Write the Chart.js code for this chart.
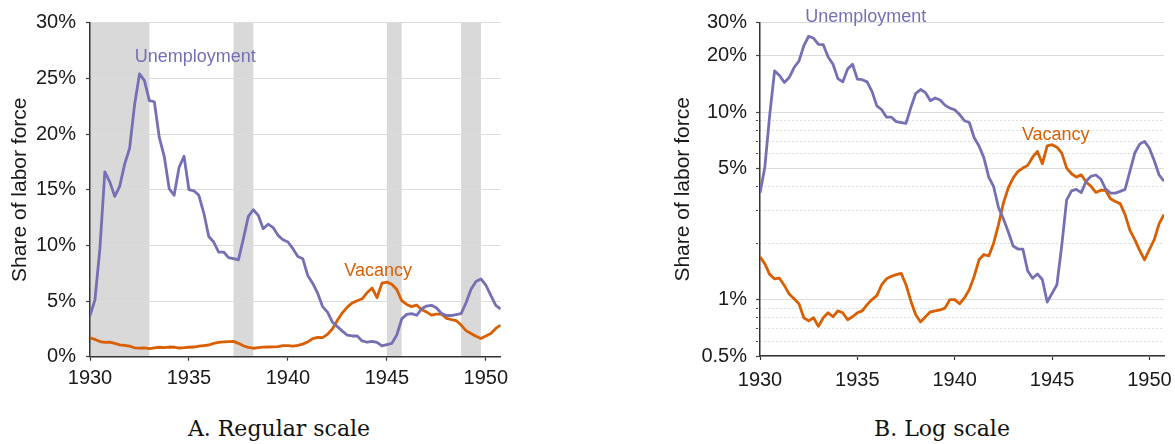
<!DOCTYPE html>
<html><head><meta charset="utf-8">
<script src="https://cdn.jsdelivr.net/npm/chart.js@4"></script>
<style>
html,body{margin:0;padding:0;background:#fff;width:1175px;height:444px;overflow:hidden;}
#c1{position:absolute;left:0;top:0;}
#c2{position:absolute;left:640px;top:0;}
.cap{position:absolute;top:418px;font-family:"DejaVu Serif",serif;font-size:22px;line-height:22px;text-align:center;color:#111;white-space:nowrap;}
</style></head><body>
<canvas id="c1" width="530" height="400"></canvas>
<canvas id="c2" width="535" height="400"></canvas>
<div class="cap" style="left:129px;width:300px">A. Regular scale</div>
<div class="cap" style="left:792px;width:300px">B. Log scale</div>
<script>
// ---- data (quarterly, share of labor force in %) ----
const quarters = [
  1930,1930.25,1930.5,1930.75, 1931,1931.25,1931.5,1931.75, 1932,1932.25,1932.5,1932.75,
  1933,1933.25,1933.5,1933.75, 1934,1934.25,1934.5,1934.75, 1935,1935.25,1935.5,1935.75,
  1936,1936.25,1936.5,1936.75, 1937,1937.25,1937.5,1937.75, 1938,1938.25,1938.5,1938.75,
  1939,1939.25,1939.5,1939.75, 1940,1940.25,1940.5,1940.75, 1941,1941.25,1941.5,1941.75,
  1942,1942.25,1942.5,1942.75, 1943,1943.25,1943.5,1943.75, 1944,1944.25,1944.5,1944.75,
  1945,1945.25,1945.5,1945.75, 1946,1946.25,1946.5,1946.75, 1947,1947.25,1947.5,1947.75,
  1948,1948.25,1948.5,1948.75, 1949,1949.25,1949.5,1949.75, 1950,1950.25,1950.5,1950.75
];
const unemployment = [
  3.7, 5.1, 9.7, 16.6,   15.7, 14.4, 15.3, 17.3,   18.7, 22.6, 25.4, 24.8,
  23.0, 22.9, 19.7, 18.0, 15.1, 14.5, 17.0, 18.0,   15.0, 14.9, 14.5, 12.9,
  10.8, 10.3, 9.4, 9.4,   8.9, 8.8, 8.7, 10.6,      12.6, 13.2, 12.7, 11.5,
  11.9, 11.6, 10.9, 10.5, 10.3, 9.7, 9.0, 8.8,      7.3, 6.6, 5.7, 4.5,
  4.0, 3.1, 2.7, 2.3,     1.93, 1.86, 1.86, 1.42,   1.3, 1.37, 1.28, 0.97,
  1.08, 1.2, 1.95, 3.4,   3.8, 3.87, 3.72, 4.28,    4.55, 4.62, 4.4, 3.9,
  3.7, 3.7, 3.78, 3.87,   4.85, 6.05, 6.75, 6.98,   6.42, 5.5, 4.62, 4.28
];
const vacancy = [
  1.69, 1.55, 1.36, 1.29, 1.30, 1.19, 1.07, 1.01,   0.95, 0.80, 0.77, 0.80,
  0.72, 0.80, 0.85, 0.81, 0.87, 0.85, 0.78, 0.81,   0.85, 0.87, 0.94, 1.00,
  1.05, 1.20, 1.29, 1.33, 1.36, 1.38, 1.20, 0.98,   0.83, 0.76, 0.81, 0.86,
  0.87, 0.88, 0.90, 1.00, 1.00, 0.95, 1.02, 1.13,   1.33, 1.63, 1.74, 1.71,
  2.0, 2.51, 3.27, 3.94,  4.45, 4.83, 5.03, 5.2,    5.75, 6.17, 5.3, 6.61,
  6.7, 6.5, 6.04, 5.03,   4.69, 4.5, 4.63, 4.24,    4.02, 3.73, 3.83, 3.83,
  3.45, 3.34, 3.25, 2.84, 2.34, 2.09, 1.83, 1.63,   1.85, 2.09, 2.54, 2.84
];
const recessionStart = [1930, 1937.25, 1945, 1948.75];
const recessionEnd   = [1933, 1938.25, 1945.75, 1949.75];
const xTicks = [1930, 1935, 1940, 1945, 1950];
const yTicksLinear = [0, 5, 10, 15, 20, 25, 30];
const yTicksLogMajor = [0.5, 1, 5, 10, 20, 30];
const yTicksLogMinor = [0.6, 0.7, 0.8, 0.9, 2, 3, 4, 6, 7, 8, 9];
const seriesNames = ['Unemployment', 'Vacancy'];

// ---- styling ----
const PURPLE = '#7570b3', ORANGE = '#d95f02';
Chart.defaults.font.family = '"Liberation Sans", Arial, Helvetica, sans-serif';
Chart.defaults.color = '#1a1a1a';

const toPoints = vals => vals.map((v, i) => ({x: quarters[i], y: v}));
const isMajorLog = v => yTicksLogMajor.some(m => Math.abs(m - v) < 1e-9);

const shadePlugin = {
  id: 'shade',
  beforeDraw(chart, args, opts) {
    if (!opts || !opts.show) return;
    const {ctx, chartArea: a, scales: {x}} = chart;
    ctx.save();
    ctx.fillStyle = '#d9d9d9';
    recessionStart.forEach((s, i) => {
      const x1 = x.getPixelForValue(s), x2 = x.getPixelForValue(recessionEnd[i]);
      ctx.fillRect(x1, a.top, x2 - x1, a.bottom - a.top);
    });
    ctx.restore();
  }
};
const labelPlugin = {
  id: 'seriesLabels',
  afterDatasetsDraw(chart, args, opts) {
    const {ctx, scales: {x, y}} = chart;
    ctx.save();
    ctx.font = '18px "Liberation Sans", Arial, sans-serif';
    ctx.textAlign = 'center';
    ctx.textBaseline = 'middle';
    (opts.items || []).forEach(it => {
      ctx.fillStyle = it.color;
      ctx.fillText(it.text, x.getPixelForValue(it.x), y.getPixelForValue(it.y));
    });
    ctx.restore();
  }
};

function datasets() {
  return [
    {label: seriesNames[0], data: toPoints(unemployment), borderColor: PURPLE, borderWidth: 2.8,
     pointRadius: 0, tension: 0, borderJoinStyle: 'round', fill: false},
    {label: seriesNames[1], data: toPoints(vacancy), borderColor: ORANGE, borderWidth: 2.8,
     pointRadius: 0, tension: 0, borderJoinStyle: 'round', fill: false}
  ];
}
function xScale(axisHeight, pad) {
  return {
    type: 'linear', min: 1930, max: 1950.75,
    afterBuildTicks: s => { s.ticks = xTicks.map(v => ({value: v})); },
    afterFit: s => { s.height = axisHeight; s.paddingLeft = 0; s.paddingRight = 0; },
    ticks: {font: {size: 20}, padding: pad, maxRotation: 0, autoSkip: false, callback: v => String(v)},
    grid: {drawOnChartArea: false, drawTicks: true, tickLength: 4, tickColor: '#333', tickWidth: 1.2},
    border: {display: true, color: '#333', width: 1.5}
  };
}
const common = {
  responsive: false, maintainAspectRatio: false, animation: false,
  events: [],
};

new Chart(document.getElementById('c1'), {
  type: 'line',
  data: {datasets: datasets()},
  plugins: [shadePlugin, labelPlugin],
  options: Object.assign({}, common, {
    layout: {padding: {left: 0, right: 29.3, top: 22.7, bottom: 0}},
    plugins: {
      legend: {display: false}, tooltip: {enabled: false},
      shade: {show: true},
      seriesLabels: {items: [
        {text: seriesNames[0], x: 1935.32, y: 26.95, color: PURPLE},
        {text: seriesNames[1], x: 1944.56, y: 7.72, color: ORANGE}
      ]}
    },
    scales: {
      x: xScale(43.3, 6),
      y: {
        type: 'linear', min: 0, max: 30,
        afterBuildTicks: s => { s.ticks = yTicksLinear.map(v => ({value: v})); },
        afterFit: s => { s.width = 90; s.paddingTop = 0; s.paddingBottom = 0; },
        ticks: {font: {size: 20}, padding: 10, autoSkip: false, callback: v => v + '%'},
        grid: {color: '#dcdcdc', lineWidth: 1, tickLength: 4, tickColor: '#444', tickWidth: 1.2},
        border: {display: true, color: '#333', width: 1.5},
        title: {display: true, text: 'Share of labor force', font: {size: 21}, color: '#1a1a1a', padding: {top: 8, bottom: 0}}
      }
    }
  })
});

new Chart(document.getElementById('c2'), {
  type: 'line',
  data: {datasets: datasets()},
  plugins: [labelPlugin],
  options: Object.assign({}, common, {
    layout: {padding: {left: 0, right: 11, top: 22.7, bottom: 0}},
    plugins: {
      legend: {display: false}, tooltip: {enabled: false},
      seriesLabels: {items: [
        {text: seriesNames[0], x: 1935.43, y: 32.1, color: PURPLE},
        {text: seriesNames[1], x: 1945.19, y: 7.57, color: ORANGE}
      ]}
    },
    scales: {
      x: xScale(44, 8),
      y: {
        type: 'logarithmic', min: 0.5, max: 30,
        afterBuildTicks: s => {
          s.ticks = yTicksLogMajor.concat(yTicksLogMinor).sort((a, b) => a - b).map(v => ({value: v}));
        },
        afterFit: s => { s.width = 120; s.paddingTop = 0; s.paddingBottom = 0; },
        ticks: {font: {size: 20}, padding: 9, autoSkip: false,
                callback: v => isMajorLog(v) ? (v + '%') : ''},
        grid: {
          color: c => (c.tick && !isMajorLog(c.tick.value)) ? '#bdbdbd' : '#dcdcdc',
          lineWidth: 1, tickLength: 4, tickColor: '#444', tickWidth: 1.2,
          tickBorderDash: c => (c.tick && !isMajorLog(c.tick.value)) ? [2, 20] : []
        },
        border: {display: true, color: '#333', width: 1.5,
                 dash: c => (c.tick && !isMajorLog(c.tick.value)) ? [1, 3] : []},
        title: {display: true, text: 'Share of labor force', font: {size: 21}, color: '#1a1a1a', padding: {top: 31, bottom: 0}}
      }
    }
  })
});
</script>
</body></html>
